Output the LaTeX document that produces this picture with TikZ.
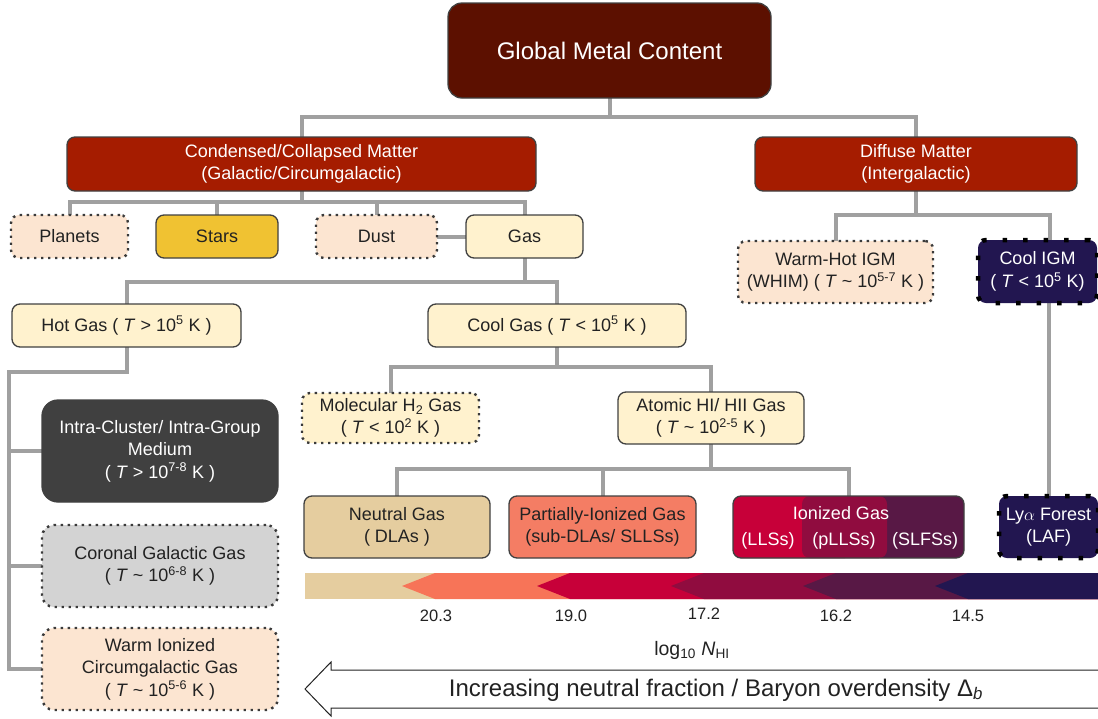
\documentclass[tikz,border=0pt]{standalone}
\usepackage{fontspec}
\setmainfont{Liberation Sans}
\usetikzlibrary{backgrounds,calc}
\definecolor{cglobal}{HTML}{5C1000}
\definecolor{cmatter}{HTML}{A51C00}
\definecolor{cpeach}{HTML}{FCE5D1}
\definecolor{cstars}{HTML}{F0C232}
\definecolor{cyellow}{HTML}{FFF2CE}
\definecolor{cneut}{HTML}{E5CD9F}
\definecolor{cpart}{HTML}{F47D64}
\definecolor{csalmon}{HTML}{F77458}
\definecolor{cred}{HTML}{C70039}
\definecolor{ccrim}{HTML}{900C3F}
\definecolor{cpurp}{HTML}{581845}
\definecolor{cnavy}{HTML}{221650}
\definecolor{cicm}{HTML}{404040}
\definecolor{ccor}{HTML}{D3D3D3}
\definecolor{cconn}{HTML}{A0A0A0}
\definecolor{cborder}{HTML}{404040}
\definecolor{ctext}{HTML}{222222}
\definecolor{cdots}{HTML}{3A3A3A}
\tikzset{
  basebox/.style={rounded corners=8pt, inner sep=0pt, outer sep=0pt, align=center, text=ctext,
    font=\fontsize{18}{22.5}\selectfont},
  solidbox/.style={basebox, draw=cborder, line width=1.3pt},
  dotbox/.style={basebox, draw=cdots, line width=2.4pt, dash pattern=on 2.4pt off 4.6pt},
  bigdot/.style={basebox, draw=black, line width=4.5pt, dash pattern=on 4.5pt off 16pt},
  conn/.style={draw=cconn, line width=4pt, line join=miter},
  numlabel/.style={inner sep=0pt, text=ctext, font=\fontsize{16.5}{20}\selectfont},
}
\newcommand{\Tit}{\textit{T}}
\begin{document}
\begin{tikzpicture}[x=1pt,y=-1pt]
\useasboundingbox (0,0) rectangle (1098,718);

% nodes
\node[solidbox, fill=cglobal, text=white, rounded corners=14pt, minimum width=323pt, minimum height=95pt,
  font=\fontsize{24}{28}\selectfont] (global) at (609.5,50.5) {Global Metal Content};
\node[solidbox, fill=cmatter, text=white, minimum width=469pt, minimum height=54pt] (cond) at (301.5,164)
  {Condensed/Collapsed Matter\\(Galactic/Circumgalactic)};
\node[solidbox, fill=cmatter, text=white, minimum width=322pt, minimum height=54pt] (diff) at (916,164)
  {Diffuse Matter\\(Intergalactic)};

\node[dotbox, fill=cpeach, minimum width=117pt, minimum height=43pt] (planets) at (69.5,236.5) {Planets};
\node[solidbox, fill=cstars, minimum width=122pt, minimum height=43pt] (stars) at (217,236.5) {Stars};
\node[dotbox, fill=cpeach, minimum width=121pt, minimum height=43pt] (dust) at (376.5,236.5) {Dust};
\node[solidbox, fill=cyellow, minimum width=117pt, minimum height=43pt] (gas) at (524.5,236.5) {Gas};

\node[dotbox, fill=cpeach, minimum width=195pt, minimum height=62pt] (whim) at (835.5,272)
  {Warm-Hot IGM\\(WHIM) ( \Tit\ \textasciitilde\ 10\textsuperscript{5-7} K )};
\node[bigdot, fill=cnavy, text=white, minimum width=119pt, minimum height=63pt] (cooligm) at (1037.5,271.5)
  {Cool IGM\\( \Tit\ < 10\textsuperscript{5} K)};

\node[solidbox, fill=cyellow, minimum width=229pt, minimum height=43pt] (hot) at (126.5,325.5)
  {Hot Gas ( \Tit\ > 10\textsuperscript{5} K )};
\node[solidbox, fill=cyellow, minimum width=258pt, minimum height=43pt] (cool) at (557,325.5)
  {Cool Gas ( \Tit\ < 10\textsuperscript{5} K )};

\node[solidbox, fill=cicm, text=white, rounded corners=16pt, minimum width=236pt, minimum height=102pt] (icm) at (160,451)
  {Intra-Cluster/ Intra-Group\\Medium\\( \Tit\ > 10\textsuperscript{7-8} K )};
\node[dotbox, fill=ccor, rounded corners=12pt, minimum width=236pt, minimum height=82pt] (cor) at (160,566)
  {Coronal Galactic Gas\\( \Tit\ \textasciitilde\ 10\textsuperscript{6-8} K )};
\node[dotbox, fill=cpeach, rounded corners=12pt, minimum width=236pt, minimum height=82pt] (warm) at (160,669)
  {Warm Ionized\\Circumgalactic Gas\\( \Tit\ \textasciitilde\ 10\textsuperscript{5-6} K )};

\node[dotbox, fill=cyellow, minimum width=177pt, minimum height=50pt] (mol) at (390.5,418)
  {Molecular H\textsubscript{2} Gas\\( \Tit\ < 10\textsuperscript{2} K )};
\node[solidbox, fill=cyellow, minimum width=186pt, minimum height=52pt] (atom) at (711,418)
  {Atomic HI/ HII Gas\\( \Tit\ \textasciitilde\ 10\textsuperscript{2-5} K )};

\node[solidbox, fill=cneut, minimum width=186pt, minimum height=62pt] (neut) at (397,527)
  {Neutral Gas\\( DLAs )};
\node[solidbox, fill=cpart, minimum width=187pt, minimum height=62pt] (part) at (602.5,527)
  {Partially-Ionized Gas\\(sub-DLAs/ SLLSs)};
\node[solidbox, minimum width=231pt, minimum height=62pt] (ion) at (848.5,527) {};
\node[basebox, text=white] (iontitle) at (841,513) {Ionized Gas};
\node[basebox, text=white] (llss) at (768,541) {(LLSs)};
\node[basebox, text=white] (pllss) at (844,541) {(pLLSs)};
\node[basebox, text=white] (slfss) at (925,541) {(SLFSs)};
\node[bigdot, fill=cnavy, text=white, minimum width=99pt, minimum height=62pt] (lya) at (1048.5,527)
  {Ly$\alpha$ Forest\\(LAF)};

% connectors & fills behind
\begin{scope}[on background layer]
  \fill[cpurp, rounded corners=8pt] (ion.north west) rectangle (ion.south east);
  \fill[cred, rounded corners=8pt] (ion.north west) rectangle ($(ion.south west)+(120,0)$);
  \fill[ccrim, rounded corners=8pt] ($(ion.north west)+(69,0)$) rectangle ($(ion.south west)+(154,0)$);

  \draw[conn] (global.south) -- ++(0,19) -| (cond.north);
  \draw[conn] (global.south) -- ++(0,19) -| (diff.north);
  \draw[conn] (cond.south) -- ++(0,11) -| (planets.north);
  \draw[conn] (cond.south) -- ++(0,11) -| (stars.north);
  \draw[conn] (cond.south) -- ++(0,11) -| (dust.north);
  \draw[conn] (cond.south) -- ++(0,11) -| (gas.north);
  \draw[conn] (dust.east) -- (gas.west);
  \draw[conn] (diff.south) -- ++(0,24) -| (whim.north);
  \draw[conn] (diff.south) -- ++(0,24) -| ($(cooligm.north)+(12,0)$);
  \draw[conn] (lya.north) -- (lya.north |- cooligm.south);
  \draw[conn] (gas.south) -- ++(0,24) -| (hot.north);
  \draw[conn] (gas.south) -- ++(0,24) -| (cool.north);
  \draw[conn] (hot.south) -- ++(0,25) -| ($(warm.west)+(-33,0)$) -- (warm.west);
  \draw[conn] (icm.west) -- ++(-33,0);
  \draw[conn] (cor.west) -- ++(-33,0);
  \draw[conn] (cool.south) -- ++(0,20) -| (mol.north);
  \draw[conn] (cool.south) -- ++(0,20) -| (atom.north);
  \draw[conn] (atom.south) -- ++(0,25) -| (neut.north);
  \draw[conn] (atom.south) -- ++(0,25) -| (part.north);
  \draw[conn] (atom.south) -- ++(0,25) -| (ion.north);
\end{scope}

% column density band
\fill[cneut] (305,573) rectangle (1098,599);
\fill[csalmon] (435,573) -- (402,586) -- (435,599) -- (1098,599) -- (1098,573) -- cycle;
\fill[cred] (570,573) -- (537,586) -- (570,599) -- (1098,599) -- (1098,573) -- cycle;
\fill[ccrim] (704,573) -- (671,586) -- (704,599) -- (1098,599) -- (1098,573) -- cycle;
\fill[cpurp] (836,573) -- (803,586) -- (836,599) -- (1098,599) -- (1098,573) -- cycle;
\fill[cnavy] (968,573) -- (935,586) -- (968,599) -- (1098,599) -- (1098,573) -- cycle;

\node[numlabel] (n1) at (436,616) {20.3};
\node[numlabel] (n2) at (571,616) {19.0};
\node[numlabel] (n3) at (704,614) {17.2};
\node[numlabel] (n4) at (836,616) {16.2};
\node[numlabel] (n5) at (968,616) {14.5};
\node[inner sep=0pt, text=ctext, font=\fontsize{19.5}{22}\selectfont] (logn) at (692,650)
  {log\textsubscript{10} \textit{N}\textsubscript{HI}};

% big outline arrow
\draw[line width=1pt, draw=ctext, fill=white, line join=miter]
  (1102,670) -- (331,670) -- (331,662) -- (305,689) -- (331,716) -- (331,708) -- (1102,708);
\node[inner sep=0pt, text=ctext, font=\fontsize{24}{28}\selectfont] (arrowtext) at (716,690)
  {Increasing neutral fraction / Baryon overdensity Δ\textsubscript{\textit{b}}};
\end{tikzpicture}
\end{document}
